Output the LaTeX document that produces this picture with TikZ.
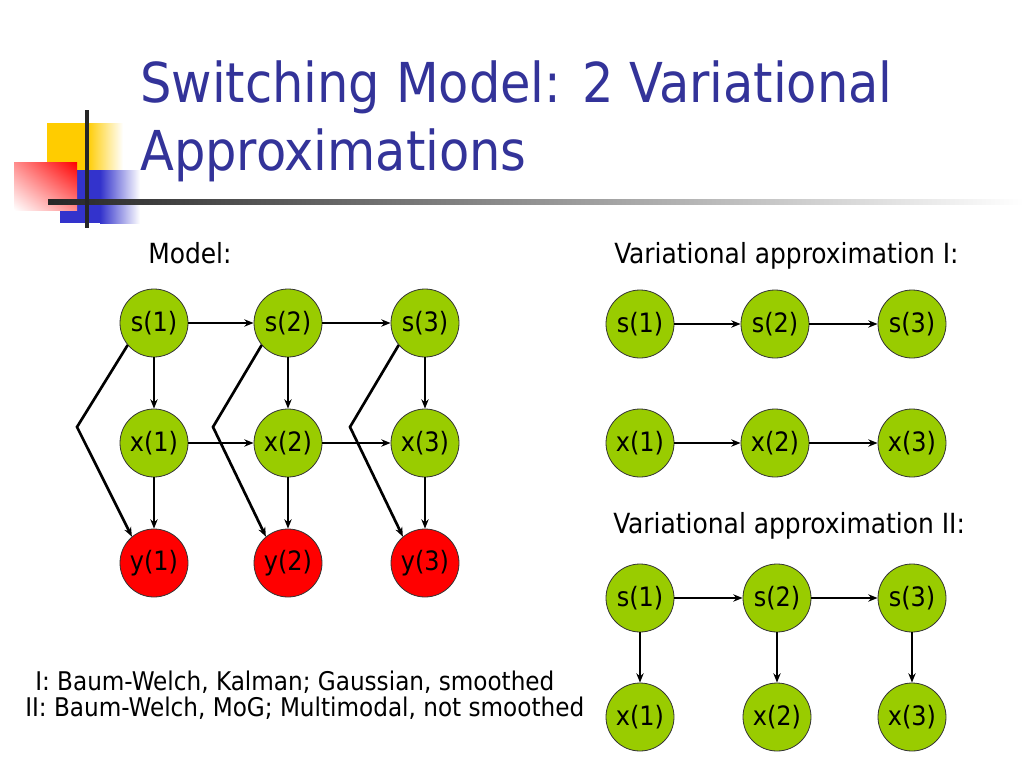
\documentclass[tikz,border=0pt]{standalone}
\usepackage{fontspec}
\setmainfont{DejaVu Sans Condensed}
\usetikzlibrary{arrows.meta,shadings}
\definecolor{titleblue}{HTML}{333399}
\definecolor{nodegreen}{HTML}{99CC00}
\definecolor{nodered}{HTML}{FF0000}
\definecolor{decoyellow}{HTML}{FFCC00}
\definecolor{decoblue}{HTML}{3333CC}
\begin{document}
\begin{tikzpicture}[x=0.75pt,y=-0.75pt,
  gnode/.style={circle,draw=black!80,line width=0.6pt,fill=nodegreen,minimum size=51pt,inner sep=0pt,font=\fontsize{20}{22}\selectfont},
  rnode/.style={gnode,fill=nodered},
  arr/.style={-{Stealth[length=7pt,width=5.5pt]},line width=2pt,black},
  lbl/.style={anchor=base west,inner sep=0pt,font=\fontsize{20.8}{22}\selectfont},
  foot/.style={anchor=base west,inner sep=0pt,font=\fontsize{19.3}{22}\selectfont}]
\useasboundingbox (0,0) rectangle (1024,768);
\fill[white] (0,0) rectangle (1024,768);
% decoration
\fill[decoyellow] (47,123) rectangle (87,172);
\shade[left color=decoyellow,right color=white] (87,123) rectangle (123,172);
\fill[decoblue] (60,170) rectangle (100,223);
\shade[left color=decoblue,right color=white] (100,170) rectangle (140,223);
\shade[upper right=red,lower left=white,upper left=red!45,lower right=red!45] (14,162) rectangle (77,210);
\shade[left color=black!85,right color=white] (48,199) rectangle (1024,204);
\fill[black!85] (85,110) rectangle (89,228);
% title
\node[anchor=base west,inner sep=0pt,text=titleblue,font=\fontsize{41.25}{50}\selectfont] (t1) at (140,102) {Switching Model: 2 Variational};
\node[anchor=base west,inner sep=0pt,text=titleblue,font=\fontsize{41.25}{50}\selectfont] (t2) at (140,170) {Approximations};
% labels
\node[lbl] (lm) at (148,263) {Model:};
\node[lbl] (lv1) at (614,263) {Variational approximation I:};
\node[lbl] (lv2) at (613,533) {Variational approximation II:};
\node[foot] (f1) at (35,690) {I: Baum-Welch, Kalman; Gaussian, smoothed};
\node[foot] (f2) at (25,716) {II: Baum-Welch, MoG; Multimodal, not smoothed};
% model
\foreach \i/\xx in {1/154,2/288,3/425}{
  \node[gnode] (s\i) at (\xx,323) {s(\i)};
  \node[gnode] (x\i) at (\xx,443) {x(\i)};
  \node[rnode] (y\i) at (\xx,563) {y(\i)};
}
\draw[arr] (s1) -- (s2);
\draw[arr] (s2) -- (s3);
\draw[arr] (x1) -- (x2);
\draw[arr] (x2) -- (x3);
\foreach \i in {1,2,3}{
  \draw[arr] (s\i) -- (x\i);
  \draw[arr] (x\i) -- (y\i);
}
\coordinate (b1) at (77,427);
\coordinate (b2) at (213,427);
\coordinate (b3) at (350,427);
\foreach \i in {1,2,3}{
  \draw[arr,line join=miter] (s\i.220) -- (b\i) -- (y\i.130);
}
% approximation I
\foreach \i/\xx in {1/640,2/775,3/912}{
  \node[gnode] (as\i) at (\xx,324) {s(\i)};
  \node[gnode] (ax\i) at (\xx,443) {x(\i)};
}
\draw[arr] (as1) -- (as2);
\draw[arr] (as2) -- (as3);
\draw[arr] (ax1) -- (ax2);
\draw[arr] (ax2) -- (ax3);
% approximation II
\foreach \i/\xx in {1/640,2/777,3/912}{
  \node[gnode] (bs\i) at (\xx,598) {s(\i)};
  \node[gnode] (bx\i) at (\xx,717) {x(\i)};
}
\draw[arr] (bs1) -- (bs2);
\draw[arr] (bs2) -- (bs3);
\foreach \i in {1,2,3}{
  \draw[arr] (bs\i) -- (bx\i);
}
\end{tikzpicture}
\end{document}
